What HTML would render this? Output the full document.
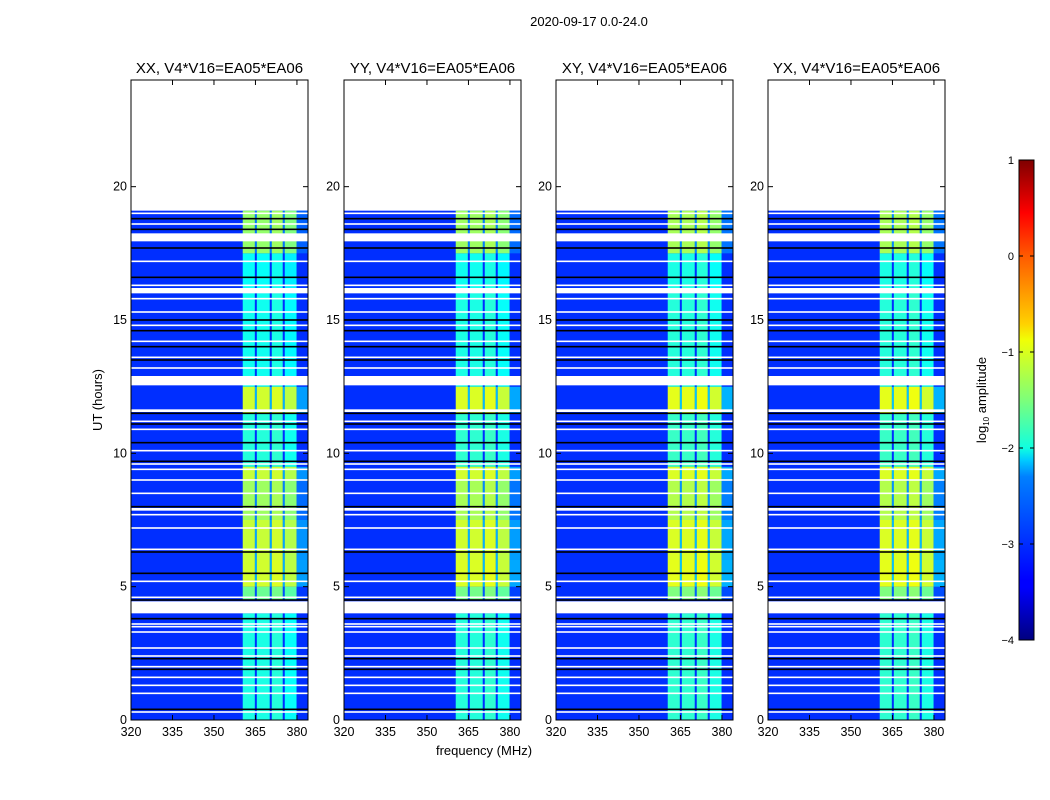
<!DOCTYPE html>
<html><head><meta charset="utf-8"><style>
body{margin:0;background:#fff;}
svg{display:block;font-family:"Liberation Sans","DejaVu Sans",sans-serif;}
</style></head><body>
<svg id="fig" width="1050" height="800" viewBox="0 0 1050 800">
<defs><linearGradient id="jet" x1="0" y1="1" x2="0" y2="0">
<stop offset="0" stop-color="#00007f"/><stop offset="0.11" stop-color="#0000ff"/><stop offset="0.125" stop-color="#0000ff"/>
<stop offset="0.34" stop-color="#0080ff"/><stop offset="0.375" stop-color="#00ccff"/><stop offset="0.4" stop-color="#10ffe0"/>
<stop offset="0.5" stop-color="#7dff7a"/><stop offset="0.625" stop-color="#f0ff06"/><stop offset="0.66" stop-color="#ffd000"/>
<stop offset="0.8" stop-color="#ff5a00"/><stop offset="0.89" stop-color="#ff0000"/><stop offset="1" stop-color="#7f0000"/>
</linearGradient></defs>
<text x="589" y="26" font-size="13" text-anchor="middle">2020-09-17 0.0-24.0</text>
<text x="484" y="755" font-size="13" text-anchor="middle">frequency (MHz)</text>
<text transform="translate(102,400) rotate(-90)" font-size="13" text-anchor="middle">UT (hours)</text>
<g id="panels"></g>
<g>
<rect x="1019" y="160" width="15" height="480" fill="url(#jet)" stroke="#000" stroke-width="1"/>
</g>
<g id="cbticks"></g>
<text transform="translate(986,400) rotate(-90)" font-size="13" text-anchor="middle">log<tspan font-size="8" dy="3">10</tspan><tspan dy="-3"> amplitude</tspan></text>
</svg>
<script>
const titles = ["XX, V4*V16=EA05*EA06","YY, V4*V16=EA05*EA06","XY, V4*V16=EA05*EA06","YX, V4*V16=EA05*EA06"];
const panelLeft = [131,344,556,768];
const xTicks = [320,335,350,365,380];
const yTicks = [0,5,10,15,20];
const cbTicks = [1,0,-1,-2,-3,-4];
const bgLevel = -3.15;
// band sub-columns: [fStart, fEnd, relative level]
const bandCols = [[360.4,364.8,0],[364.8,365.5,-1.4],[365.5,370.2,0],[370.2,370.9,-1.4],[370.9,374.9,0.05],[374.9,375.6,-1.4],[375.6,379.9,-0.1],[379.9,384,-1.5]];
// band time segments: [hStart, hEnd, level]
const bandSegs = [[0,4.0,-2.0],[4.5,5.0,-1.6],[5.0,6.0,-1.1],[6.0,7.5,-1.15],[7.5,9.0,-1.35],[9.0,9.5,-1.15],[9.5,11.5,-1.95],[11.5,12.5,-1.1],[12.5,16.0,-2.05],[16.0,17.5,-2.1],[17.5,19.1,-1.4]];
const panelOffset = [0,0.05,0.1,0.1];
const whiteGaps = [[4.0,4.45],[12.55,12.9],[16.0,16.2],[17.95,18.25],[11.55,11.65],[7.85,7.95]];
const whiteLines = [0.3,1.0,1.3,1.6,2.0,2.4,2.7,3.3,3.5,3.6,4.6,5.2,6.4,7.2,7.7,8.5,9.0,9.4,9.6,10.1,10.9,11.2,13.2,13.6,14.2,14.8,15.3,15.8,16.3,17.2,18.6,19.0];
const blackLines = [0.4,1.9,2.3,3.8,4.5,5.5,6.3,8.0,9.7,10.4,11.1,11.5,13.5,14.0,14.6,15.0,16.6,17.7,18.4,18.8];
const dataEnd = 19.1;

function jet(v){let t=(v+4)/5;t=Math.max(0,Math.min(1,t));
 const r=Math.min(Math.max(Math.min(4*t-1.5,-4*t+4.5),0),1);
 const g=Math.min(Math.max(Math.min(4*t-0.5,-4*t+3.5),0),1);
 const b=Math.min(Math.max(Math.min(4*t+0.5,-4*t+2.5),0),1);
 return `rgb(${Math.round(r*255)},${Math.round(g*255)},${Math.round(b*255)})`;}
const NS="http://www.w3.org/2000/svg";
function mk(tag,attrs,parent){const e=document.createElementNS(NS,tag);for(const k in attrs)e.setAttribute(k,attrs[k]);parent.appendChild(e);return e;}
const topY=80,botY=720,W=177;
const yS=h=>botY-(h/24)*(botY-topY);
const panels=document.getElementById('panels');
titles.forEach((t,i)=>{
 const L=panelLeft[i];
 const xS=f=>L+(f-320)/(384-320)*W;
 const g=mk('g',{},panels);
 
 
 const bg=mk('rect',{x:L,y:yS(dataEnd),width:W,height:yS(0)-yS(dataEnd),fill:jet(bgLevel)},g);
 
 
 bandSegs.forEach(s=>{bandCols.forEach(c=>{
  const r=mk('rect',{x:xS(c[0]),y:yS(s[1]),width:xS(c[1])-xS(c[0]),height:yS(s[0])-yS(s[1]),fill:jet(Math.max(bgLevel,s[2]+c[2]+panelOffset[i]))},g);
  
  
 });});
 blackLines.forEach(h=>{const r=mk('rect',{x:L,y:yS(h)-0.8,width:W,height:1.6,fill:'#000'},g);
  
  });
 whiteLines.forEach(h=>{const r=mk('rect',{x:L,y:yS(h)-0.8,width:W,height:1.6,fill:'#fff'},g);
  
  });
 whiteGaps.forEach(w=>{const r=mk('rect',{x:L,y:yS(w[1]),width:W,height:yS(w[0])-yS(w[1]),fill:'#fff'},g);
  
  });
 const fr=mk('rect',{x:L,y:topY,width:W,height:botY-topY,fill:'none',stroke:'#000','stroke-width':1},g);
 
 
 const tt=mk('text',{x:L+W/2,y:73,'font-size':15,'text-anchor':'middle'},g);tt.textContent=t;
 
 
 xTicks.forEach(f=>{const x=xS(f);
  mk('line',{x1:x,x2:x,y1:botY,y2:botY-5,stroke:'#000'},g);mk('line',{x1:x,x2:x,y1:topY,y2:topY+5,stroke:'#000'},g);
  const tx=mk('text',{x:x,y:botY+16,'font-size':12.5,'text-anchor':'middle'},g);tx.textContent=f;
  
  });
 yTicks.forEach(h=>{const y=yS(h);
  mk('line',{x1:L,x2:L+5,y1:y,y2:y,stroke:'#000'},g);mk('line',{x1:L+W,x2:L+W-5,y1:y,y2:y,stroke:'#000'},g);
  const ty=mk('text',{x:L-4,y:y+4,'font-size':12.5,'text-anchor':'end'},g);ty.textContent=h;
  
  });
});
const cbg=document.getElementById('cbticks');
cbTicks.forEach(v=>{const y=160+(1-v)/5*480;
 mk('line',{x1:1019,x2:1023,y1:y,y2:y,stroke:'#000'},cbg);mk('line',{x1:1034,x2:1030,y1:y,y2:y,stroke:'#000'},cbg);
 const t=mk('text',{x:1014,y:y+4,'font-size':11,'text-anchor':'end'},cbg);t.textContent=(v<0?'\u2212'+(-v):v);
 
 });
</script>
</body></html>
